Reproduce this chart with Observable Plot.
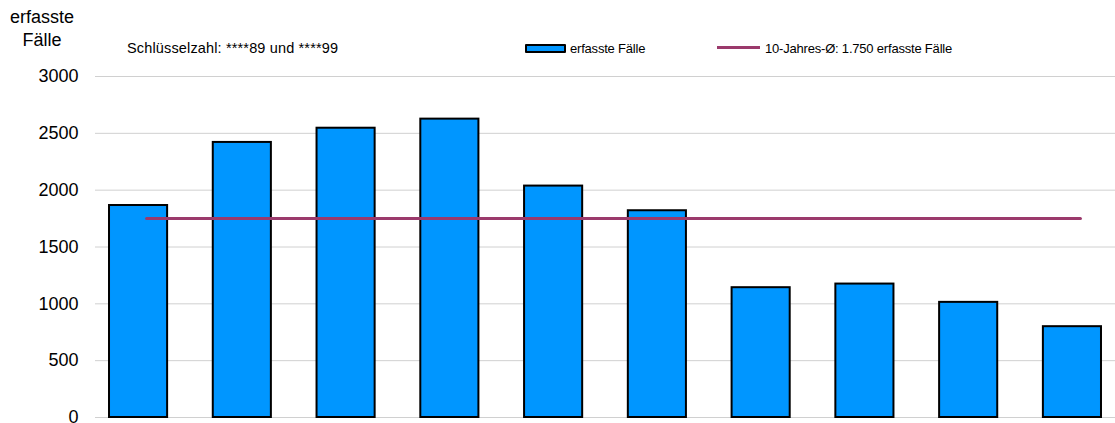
<!DOCTYPE html>
<html lang="de">
<head>
<meta charset="utf-8">
<script src="https://cdn.jsdelivr.net/npm/d3@7"></script>
<script src="https://cdn.jsdelivr.net/npm/@observablehq/plot@0.6"></script>
<style>
  html, body { margin: 0; padding: 0; background: #fff; }
  #chart { position: relative; width: 1115px; height: 423px; font-family: Arial, "Liberation Sans", sans-serif; color: #000; }
  #chart svg { position: absolute; left: 0; top: 0; }
  .note { position: absolute; font-size: 13px; white-space: nowrap; line-height: 1; letter-spacing: -0.2px; }
  .ylabel { position: absolute; left: 0; top: 6px; width: 84px; text-align: center; font-size: 18px; line-height: 23px; }
  .swatch-bar { position: absolute; left: 525px; top: 44px; width: 37px; height: 5px; background: #0096ff; border: 2px solid #000; border-radius: 1px; }
  .swatch-line { position: absolute; left: 717px; top: 46px; width: 43px; height: 3px; background: #9b3a6c; }
</style>
</head>
<body>
<div id="chart">
  <div class="ylabel">erfasste<br>Fälle</div>
  <div class="note" style="left:127px; top:41px; font-size:14.5px; letter-spacing:0.15px;">Schlüsselzahl: ****89 und ****99</div>
  <div class="swatch-bar"></div>
  <div class="note" style="left:570px; top:42px;">erfasste Fälle</div>
  <div class="swatch-line"></div>
  <div class="note" style="left:765px; top:42px;">10-Jahres-Ø: 1.750 erfasste Fälle</div>
</div>
<script>
// Ten consecutive reporting periods (no axis labels shown)
const periods = ["1", "2", "3", "4", "5", "6", "7", "8", "9", "10"];
// Recorded cases per period
const cases = [1865, 2420, 2545, 2625, 2036, 1819, 1142, 1174, 1013, 799];
// Ten-year average of recorded cases
const average = 1750;
// Value axis ticks
const yTicks = [0, 500, 1000, 1500, 2000, 2500, 3000];

const rows = periods.map((p, i) => ({period: p, value: cases[i]}));

const plot = Plot.plot({
  width: 1115,
  height: 423,
  marginLeft: 95,
  marginRight: 0,
  marginTop: 76,
  marginBottom: 6,
  style: {fontFamily: "Arial, 'Liberation Sans', sans-serif", color: "#000", background: "transparent"},
  x: {domain: periods, paddingInner: 0.44, paddingOuter: 0.135, round: false, axis: null},
  y: {domain: [0, 3000]},
  marks: [
    Plot.ruleY(yTicks, {stroke: "#d0d0d0", strokeWidth: 1}),
    Plot.axisY(yTicks, {tickSize: 0, tickPadding: 17, fontSize: 18, label: null, tickFormat: d => String(d)}),
    Plot.barY(rows, {x: "period", y: "value", fill: "#0096ff", stroke: "#000", strokeWidth: 2}),
    Plot.lineY(periods, {x: d => d, y: () => average, stroke: "#9b3a6c", strokeWidth: 3, dx: 8})
  ]
});

document.getElementById("chart").prepend(plot);
</script>
</body>
</html>
